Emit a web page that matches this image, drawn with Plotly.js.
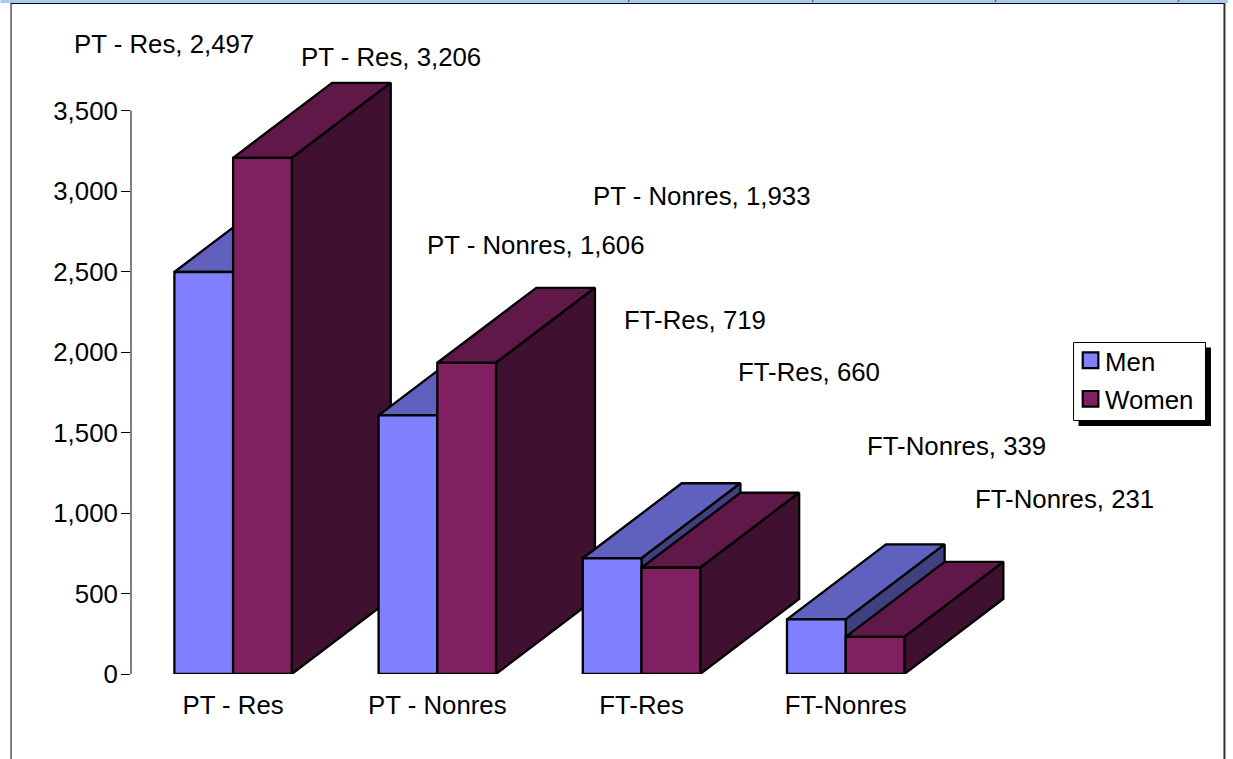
<!DOCTYPE html>
<html><head><meta charset="utf-8">
<script src="https://cdn.plot.ly/plotly-3.0.1.min.js"></script>
<style>
html,body{margin:0;padding:0;background:#fff;overflow:hidden}
g.legendpoints path{transform:translate(25.5px,-0.5px) scale(1.3);stroke-width:1.7px !important}
</style></head><body><div id="chart" style="width:1233px;height:759px"></div>
<script>
const categories=["PT - Res","PT - Nonres","FT-Res","FT-Nonres"];
const men=[2497,1606,719,339];
const women=[3206,1933,660,231];
const yTicks=[0,500,1000,1500,2000,2500,3000,3500];

const W=1233,H=759,L=130.5,T=60,B=674,CAT=204.3,UNIT=161/1000;
const PW=CAT*5,PH=B-T;
const yMax=PH/UNIT, axisTop=3500, gap=0.425;
const barW=(1-gap)/2;
const dx=99/CAT, dy=75/UNIT;
const menCols={front:"#8080FF",top:"#6060BF",side:"#404080"};
const womenCols={front:"#802060",top:"#601848",side:"#401030"};
const F="'Liberation Sans',Arial,sans-serif", FS=25.8, LW=2.3;

function poly(xs,ys,c){return {type:"scatter",mode:"lines",x:xs,y:ys,fill:"toself",fillcolor:c,
  line:{color:"#000",width:LW,shape:"linear"},showlegend:false,hoverinfo:"skip",xaxis:"x",yaxis:"y"};}
function faces(x0,x1,v,c){return [
  poly([x0,x1,x1+dx,x0+dx,x0],[v,v,v+dy,v+dy,v],c.top),
  poly([x1,x1+dx,x1+dx,x1,x1],[0,dy,v+dy,v,0],c.side)];}
const traces=[];
categories.forEach((_,i)=>{
  traces.push(...faces(i-barW,i,men[i],menCols));
  traces.push(...faces(i,i+barW,women[i],womenCols));
});
const idx=categories.map((_,i)=>i);
traces.push({type:"bar",name:"Men",legendgroup:"m",x:idx,y:men,width:barW,offset:-barW,xaxis:"x2",yaxis:"y2",cliponaxis:false,
  marker:{color:menCols.front,line:{color:"#000",width:LW}},hoverinfo:"skip"});
traces.push({type:"bar",name:"Women",legendgroup:"w",x:idx,y:women,width:barW,offset:0,xaxis:"x2",yaxis:"y2",cliponaxis:false,
  marker:{color:womenCols.front,line:{color:"#000",width:LW}},hoverinfo:"skip"});

const px=x=>(x-L)/PW, py=y=>(B-y)/PH;
const fmt=v=>v.toLocaleString("en-US");
const labelCx=[[164,390.5],[535,701.5],[695,809],[956,1064.5]];
const labelCy=[[44,57],[245,196],[320,372],[446,499]];
const annotations=[];
categories.forEach((c,i)=>{
  [men,women].forEach((s,j)=>{
    annotations.push({xref:"paper",yref:"paper",x:px(labelCx[i][j]),y:py(labelCy[i][j]),text:c+", "+fmt(s[i]),
      showarrow:false,xanchor:"center",yanchor:"middle",font:{family:F,size:FS,color:"#000"}});
  });
});
const rect=(x0,y0,x1,y1,o)=>Object.assign({type:"rect",xref:"paper",yref:"paper",x0:px(x0),x1:px(x1),y0:py(y0),y1:py(y1),layer:"below",line:{width:0}},o);
const line=(x0,y0,x1,y1,col,w)=>({type:"line",xref:"paper",yref:"paper",x0:px(x0),x1:px(x1),y0:py(y0),y1:py(y1),layer:"below",line:{color:col,width:w}});
const specks=[628,812,995,1178].map(x=>line(x+1,0,x,2,"#555",1.2));
const shapes=[
  rect(0,0,1228,3,{fillcolor:"#A6CAF0"}),
  ...specks,
  line(10.5,3.5,10.5,759,"#000",1),
  line(10,3.5,1224,3.5,"#000",1),
  line(1224.5,3,1224.5,759,"#333",2),
  rect(1078.5,347.5,1211,426,{fillcolor:"#000"}),
  rect(1073.5,342.5,1205.5,420.5,{fillcolor:"#fff",line:{color:"#000",width:1}}),
  {type:"line",xref:"paper",yref:"y",x0:0,x1:0,y0:0,y1:axisTop,layer:"below",line:{color:"#000",width:1}}
];
const layout={width:W,height:H,margin:{l:L,t:T,r:W-L-PW,b:H-B,pad:0},paper_bgcolor:"#fff",plot_bgcolor:"rgba(0,0,0,0)",
  font:{family:F,size:FS,color:"#000"},barmode:"overlay",showlegend:true,hovermode:false,
  xaxis:{range:[-0.5,4.5],tickmode:"array",tickvals:idx,ticktext:categories,showgrid:false,zeroline:false,showline:false,ticks:"",ticklabelstandoff:13,tickfont:{family:F,size:FS}},
  yaxis:{range:[0,yMax],tickmode:"array",tickvals:yTicks,tickformat:",",showgrid:false,zeroline:false,showline:false,ticks:"outside",ticklen:9,tickwidth:1,tickcolor:"#000",ticklabelstandoff:-2,tickfont:{family:F,size:FS}},
  xaxis2:{range:[-0.5,4.5],overlaying:"x",visible:false},
  yaxis2:{range:[0,yMax],overlaying:"y",visible:false},
  legend:{xref:"paper",yref:"paper",x:px(1065),y:py(337.5),xanchor:"left",yanchor:"top",bgcolor:"rgba(0,0,0,0)",borderwidth:0,
    font:{family:F,size:FS,color:"#000"},traceorder:"grouped",tracegroupgap:2,itemclick:false,itemdoubleclick:false},
  annotations,shapes};
Plotly.newPlot("chart",traces,layout,{displayModeBar:false,responsive:false});
</script></body></html>
